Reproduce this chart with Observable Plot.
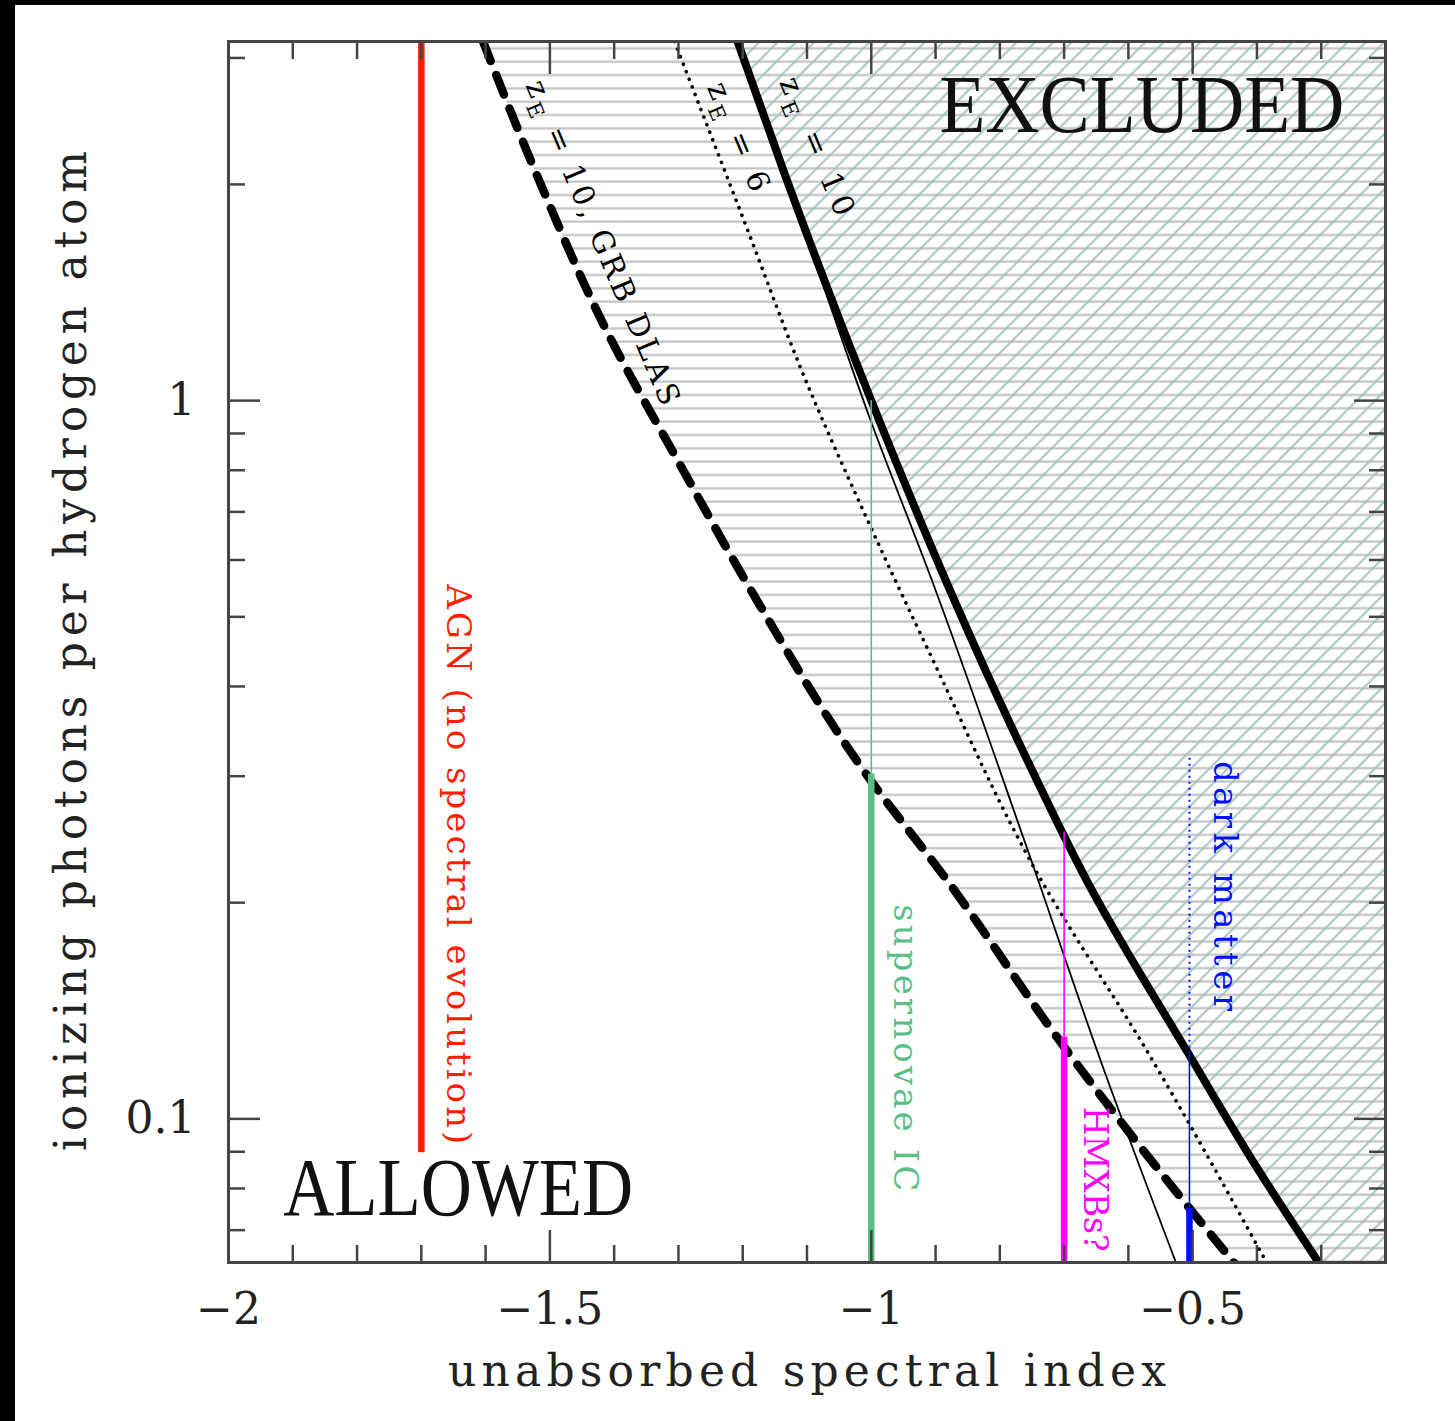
<!DOCTYPE html>
<html><head><meta charset="utf-8">
<script src="https://cdn.jsdelivr.net/npm/d3@7"></script>
<script src="https://cdn.jsdelivr.net/npm/@observablehq/plot@0.6"></script>
<style>
html,body{margin:0;padding:0;background:#000;width:1455px;height:1421px;overflow:hidden;}
#wrap{position:absolute;left:15px;top:5px;width:1440px;height:1416px;background:#fff;}
</style></head><body><div id="wrap"></div>
<script>
// ---------- data ----------
const xTicksMajor = [-2, -1.5, -1, -0.5];
const xTicksMinor = [-1.9,-1.8,-1.7,-1.6,-1.4,-1.3,-1.2,-1.1,-0.9,-0.8,-0.7,-0.6,-0.4,-0.3];
const yTicksMajor = [0.1, 1];
const yTicksMinor = [0.07,0.08,0.09,0.2,0.3,0.4,0.5,0.6,0.7,0.8,0.9,2,3];

// z_E = 10 (thick solid, exclusion boundary)
const thickX = [-1.208, -1.135, -1.0, -0.88, -0.766, -0.661, -0.506, -0.4, -0.304];
const thickY = [3.162, 2.07, 1.0, 0.551, 0.328, 0.2116, 0.123, 0.0855, 0.0631];
// thin solid
const thinX = [-1.208, -1.1, -1.0, -0.905, -0.759, -0.635, -0.526];
const thinY = [3.162, 1.683, 0.933, 0.56, 0.24, 0.115, 0.0631];
// z_E = 6 (dotted)
const dotX = [-1.306, -1.2, -1.101, -1.003, -0.905, -0.75, -0.568, -0.385];
const dotY = [3.162, 1.80, 1.062, 0.673, 0.437, 0.2265, 0.123, 0.0631];
// z_E = 10, GRB DLAs (thick dashed)
const dashX = [-1.604, -1.516, -1.411, -1.3, -1.189, -1.008, -0.879, -0.703, -0.502, -0.436];
const dashY = [3.162, 2.018, 1.247, 0.822, 0.548, 0.302, 0.213, 0.127, 0.0745, 0.0631];

// vertical source segments
const segSource = ["AGN", "SN", "SN", "HMXB", "HMXB", "DM", "DM", "DM"];
const segKind   = ["thick", "thin", "thick", "thin", "thick", "dotted", "thin", "thick"];
const segX      = [-1.7, -1.0, -1.0, -0.7, -0.7, -0.505, -0.505, -0.505];
const segLo     = [0.0897, 0.302, 0.0631, 0.13, 0.0631, 0.123, 0.075, 0.0631];
const segHi     = [3.162, 1.0, 0.302, 0.251, 0.13, 0.318, 0.123, 0.075];

const sources = ["AGN", "SN", "HMXB", "DM"];
const sourceColors = ["#ff1e00", "#5bbf85", "#ff00ff", "#0010ff"];

const labelText   = ["AGN (no spectral evolution)", "supernovae IC", "HMXBs?", "dark matter"];
const labelSource = ["AGN", "SN", "HMXB", "DM"];
const labelX      = [-1.643, -0.947, -0.652, -0.450];
const labelY      = [0.555, 0.199, 0.104, 0.315];

const curveLabelText = ["z_E = 10, GRB DLAS", "z_E = 6", "z_E = 10"];
const curveLabelX    = [-1.418, -1.207, -1.085];
const curveLabelY    = [1.66, 2.33, 2.26];

const regionText = ["ALLOWED", "EXCLUDED"];
const regionX    = [-1.915, -0.894];
const regionY    = [0.080, 2.57];

const xLabel = "unabsorbed spectral index";
const yLabel = "ionizing photons per hydrogen atom";

// ---------- build tables ----------
const pts = (xs, ys) => xs.map((x, i) => ({x, y: ys[i]}));
const thick = pts(thickX, thickY), thin = pts(thinX, thinY), dotted = pts(dotX, dotY), dashed = pts(dashX, dashY);
const segs = segX.map((x, i) => ({x, lo: segLo[i], hi: segHi[i], source: segSource[i], kind: segKind[i]}));
const labels = labelText.map((t, i) => ({t, x: labelX[i], y: labelY[i], source: labelSource[i]}));
const curveLabels = curveLabelText.map((t, i) => ({t, x: curveLabelX[i], y: curveLabelY[i]}));
const regions = regionText.map((t, i) => ({t, x: regionX[i], y: regionY[i]}));
const xDomain = [-2, -0.2];
const yDomain = [0.0631, 3.1623];

const AX = "#444";
const axisTicks = (opts) => Plot.axisX({fill: "none", stroke: AX, strokeWidth: 2.5, ...opts});
const axisTicksY = (opts) => Plot.axisY({fill: "none", stroke: AX, strokeWidth: 2.5, ...opts});
const fmtX = d => (d < 0 ? "\u2212" : "") + Math.abs(d);

const chart = Plot.plot({
  width: 1440, height: 1416,
  marginLeft: 213, marginRight: 70, marginTop: 36, marginBottom: 159,
  x: {domain: xDomain},
  y: {type: "log", domain: yDomain},
  color: {domain: sources, range: sourceColors},
  style: {fontFamily: "'DejaVu Serif', serif", background: "#fff", color: "#000"},
  marks: [
    Plot.areaX(dashed, {y: "y", x1: "x", x2: () => xDomain[1], fill: "url(#hatchH)", curve: "monotone-y", clip: true}),
    Plot.areaX(thick, {y: "y", x1: "x", x2: () => xDomain[1], fill: "url(#hatchD)", curve: "monotone-y", clip: true}),
    Plot.line(thin, {x: "x", y: "y", stroke: "#000", strokeWidth: 1.8, curve: "monotone-y", clip: true}),
    Plot.line(dotted, {x: "x", y: "y", stroke: "#000", strokeWidth: 3.6, strokeDasharray: "0.1,8", strokeLinecap: "round", curve: "monotone-y", clip: true}),
    Plot.line(dashed, {x: "x", y: "y", stroke: "#000", strokeWidth: 8.5, strokeDasharray: "21,15", curve: "monotone-y", clip: true}),
    Plot.line(thick, {x: "x", y: "y", stroke: "#000", strokeWidth: 8, curve: "monotone-y", clip: true}),
    Plot.ruleX(segs.filter(d => d.kind === "thin"), {x: "x", y1: "lo", y2: "hi", stroke: "source", strokeWidth: 1.6}),
    Plot.ruleX(segs.filter(d => d.kind === "dotted"), {x: "x", y1: "lo", y2: "hi", stroke: "source", strokeWidth: 2, strokeDasharray: "2,4"}),
    Plot.ruleX(segs.filter(d => d.kind === "thick"), {x: "x", y1: "lo", y2: "hi", stroke: "source", strokeWidth: 6.5}),
    Plot.text(labels, {x: "x", y: "y", text: "t", fill: "source", rotate: 90, textAnchor: "start", lineAnchor: "middle", fontSize: 34}),
    Plot.text(curveLabels, {x: "x", y: "y", text: "t", fill: "#000", rotate: 67, textAnchor: "middle", lineAnchor: "middle", fontSize: 30}),
    Plot.text(regions, {x: "x", y: "y", text: "t", fill: "#111", textAnchor: "start", lineAnchor: "middle", fontSize: 82, fontFamily: "'Liberation Serif', serif"}),
    // inward ticks on all four sides
    axisTicks({ticks: xTicksMinor, anchor: "bottom", tickSize: -17}),
    axisTicks({ticks: xTicksMajor, anchor: "bottom", tickSize: -32}),
    axisTicks({ticks: xTicksMinor, anchor: "top", tickSize: -17}),
    axisTicks({ticks: xTicksMajor, anchor: "top", tickSize: -32}),
    axisTicksY({ticks: yTicksMinor, anchor: "left", tickSize: -17}),
    axisTicksY({ticks: yTicksMajor, anchor: "left", tickSize: -32}),
    axisTicksY({ticks: yTicksMinor, anchor: "right", tickSize: -17}),
    axisTicksY({ticks: yTicksMajor, anchor: "right", tickSize: -32}),
    // tick labels
    Plot.axisX({ticks: xTicksMajor, anchor: "bottom", tickSize: 0, tickPadding: 30, tickFormat: fmtX, fontSize: 44, label: null, fill: "#222"}),
    Plot.axisY({ticks: yTicksMajor, anchor: "left", tickSize: 0, tickPadding: 33, tickFormat: d => String(d), fontSize: 44, label: null, fill: "#222"}),
    // axis titles
    Plot.text([xLabel], {frameAnchor: "bottom", dy: 109, fontSize: 44, lineAnchor: "middle", fill: "#222"}),
    Plot.text([yLabel], {frameAnchor: "left", dx: -157, dy: 499, rotate: -90, textAnchor: "start", fontSize: 44, lineAnchor: "middle", fill: "#222"}),
    Plot.frame({stroke: AX, strokeWidth: 3})
  ]
});

document.getElementById("wrap").appendChild(chart);

// hatch patterns
const defs = d3.select(chart).insert("defs", ":first-child");
const pH = defs.append("pattern").attr("id", "hatchH").attr("patternUnits", "userSpaceOnUse")
  .attr("width", 20).attr("height", 13.33);
pH.append("line").attr("x1", 0).attr("x2", 20).attr("y1", 3.4).attr("y2", 3.4)
  .attr("stroke", "#c2c2c2").attr("stroke-width", 2.2);
const pD = defs.append("pattern").attr("id", "hatchD").attr("patternUnits", "userSpaceOnUse")
  .attr("width", 13).attr("height", 13).attr("patternTransform", "rotate(-45)");
pD.append("line").attr("x1", 0).attr("x2", 13).attr("y1", 6.5).attr("y2", 6.5)
  .attr("stroke", "#9cbcbc").attr("stroke-width", 1.8);

// subscript E in z_E labels
d3.select(chart).selectAll("text").each(function () {
  const t = this.textContent;
  if (t.startsWith("z_E")) {
    const rest = t.slice(3);
    const sel = d3.select(this);
    sel.text(null);
    sel.append("tspan").text("z");
    sel.append("tspan").attr("dy", 8).attr("font-size", 21).text("E");
    sel.append("tspan").attr("dy", -8).text(rest);
  }
});

// letter spacing to match the original lettering widths
const targetLen = {
  "unabsorbed spectral index": 718, "ionizing photons per hydrogen atom": 1000,
  "AGN (no spectral evolution)": 560, "supernovae IC": 287, "HMXBs?": 145, "dark matter": 250,
  "ALLOWED": 350, "EXCLUDED": 405, "zE = 10, GRB DLAS": 350, "zE = 6": 116, "zE = 10": 148
};
d3.select(chart).selectAll("text").each(function () {
  const L = targetLen[this.textContent];
  if (L) {
    const nat = this.getComputedTextLength();
    this.setAttribute("textLength", L);
    this.setAttribute("lengthAdjust", nat < L ? "spacing" : "spacingAndGlyphs");
  }
});
</script>
</body></html>
